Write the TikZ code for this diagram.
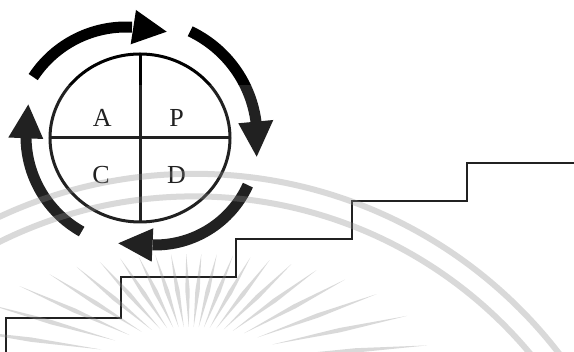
\documentclass[tikz,border=0pt]{standalone}
\usepackage{fontspec}
\setmainfont{Liberation Serif}
\usetikzlibrary{calc}
\definecolor{wm}{RGB}{141,141,141}
\begin{document}
\begin{tikzpicture}[x=1pt,y=1pt,
  cyclearc/.style={line width=11pt, line cap=butt, draw=black},
  cyclehead/.style={fill=black},
  wheel/.style={line width=3pt, draw=black},
  stairline/.style={line width=2pt, line join=miter, draw=black},
  letter/.style={font=\fontsize{26}{26}\selectfont, anchor=base, inner sep=0pt},
  wmarc/.style={draw=wm, opacity=0.33, line width=6pt},
  wmray/.style={fill=wm, opacity=0.33}]
\useasboundingbox (0,0) rectangle (574,352);
\fill[white] (0,0) rectangle (574,352);

% PDCA wheel
\coordinate (w) at (140,214);
\draw[wheel] (w) ellipse [x radius=90pt, y radius=84pt];
\draw[wheel] ($(w)+(0,84)$) -- ($(w)+(0,-84)$);
\draw[wheel] ($(w)+(-90,0)$) -- ($(w)+(90,0)$);
\node[letter] (lA) at (102.2,225.5) {A};
\node[letter] (lP) at (176.5,225.5) {P};
\node[letter] (lC) at (101,168.5) {C};
\node[letter] (lD) at (176.5,168.5) {D};

% cycle arrows
\coordinate (c1) at (126,214);
\coordinate (c2) at (140,215);
\coordinate (c3) at (155,209);
\coordinate (c4) at (135,215.5);
\draw[cyclearc] ($(c1)+(146.7:111pt)$) arc[start angle=146.7, end angle=86.9, radius=111pt];
\fill[cyclehead] (136,342) -- (166.7,320.3) -- (130.7,307.7) -- cycle;
\draw[cyclearc] ($(c2)+(64.6:117pt)$) arc[start angle=64.6, end angle=7, radius=117pt];
\fill[cyclehead] (238.3,228.7) -- (256.7,195.3) -- (273.3,232) -- cycle;
\draw[cyclearc] ($(c3)+(-24.4:102pt)$) arc[start angle=-24.4, end angle=-91.4, radius=102pt];
\fill[cyclehead] (153.3,123.7) -- (118.3,108.7) -- (151.7,90.3) -- cycle;
\draw[cyclearc] ($(c4)+(240.7:109pt)$) arc[start angle=240.7, end angle=180.8, radius=109pt];
\fill[cyclehead] (8.3,214.5) -- (28.3,247.5) -- (43.3,213) -- cycle;

% staircase
\draw[stairline] (6,0) -- (6,34.3) -- (121,34.3) -- (121,75) -- (236,75) -- (236,113)
  -- (352,113) -- (352,151) -- (467,151) -- (467,189.3) -- (574,189.3);

% watermark
\fill[white, opacity=0.13] (0,0) rectangle (574,267);
\begin{scope}
\clip (0,0) rectangle (574,352);
\coordinate (wmc) at (194,-282.4);
\draw[wmarc] (wmc) circle [radius=460.6pt];
\draw[wmarc] (wmc) circle [radius=438pt];
\coordinate (sun) at (190,-10);
\foreach \t in {4,12,...,176} {
  \pgfmathsetmacro\ro{100*2.40*1.08/sqrt((1.08*cos(\t))^2+(2.40*sin(\t))^2)}
  \pgfmathsetmacro\ri{100*0.95*0.35/sqrt((0.35*cos(\t))^2+(0.95*sin(\t))^2)}
  \pgfmathsetmacro\rm{0.5*(\ro+\ri)}
  \fill[wmray] ($(sun)+(\t:\ri pt)$) -- ($(sun)+(\t:\rm pt)+(\t+90:2.2pt)$)
    -- ($(sun)+(\t:\ro pt)$) -- ($(sun)+(\t:\rm pt)+(\t-90:2.2pt)$) -- cycle;
}
\end{scope}
\end{tikzpicture}
\end{document}
